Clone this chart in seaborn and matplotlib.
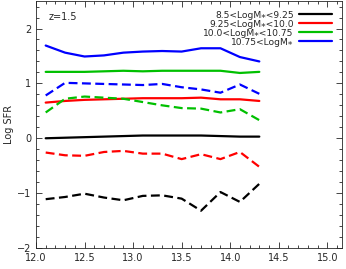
import numpy as np
import pandas as pd
import matplotlib
matplotlib.use('Agg')
import matplotlib.pyplot as plt
import seaborn as sns
from matplotlib.ticker import MultipleLocator

# x positions of the bins
x = [12.1, 12.3, 12.5, 12.7, 12.9, 13.1, 13.3, 13.5, 13.7, 13.9, 14.1, 14.3]

# solid lines
black_solid = [0.0, 0.01, 0.02, 0.03, 0.04, 0.05, 0.05, 0.05, 0.05, 0.04, 0.03, 0.03]
red_solid = [0.65, 0.68, 0.70, 0.71, 0.72, 0.73, 0.73, 0.73, 0.74, 0.71, 0.71, 0.68]
green_solid = [1.21, 1.21, 1.21, 1.22, 1.23, 1.22, 1.23, 1.23, 1.23, 1.23, 1.19, 1.21]
blue_solid = [1.69, 1.56, 1.49, 1.51, 1.56, 1.58, 1.59, 1.58, 1.64, 1.64, 1.48, 1.40]

# dashed lines
black_dash = [-1.11, -1.07, -1.01, -1.08, -1.13, -1.05, -1.04, -1.10, -1.32, -0.98, -1.16, -0.83]
red_dash = [-0.26, -0.31, -0.32, -0.25, -0.23, -0.28, -0.28, -0.38, -0.29, -0.38, -0.25, -0.52]
green_dash = [0.47, 0.72, 0.76, 0.74, 0.72, 0.66, 0.60, 0.55, 0.54, 0.47, 0.53, 0.33]
blue_dash = [0.78, 1.01, 1.00, 0.99, 0.98, 0.97, 0.99, 0.93, 0.89, 0.83, 0.98, 0.81]

labels = ['8.5<LogM\u204e<9.25', '9.25<LogM\u204e<10.0',
          '10.0<LogM\u204e<10.75', '10.75<LogM\u204e']
colors = ['#000000', '#ff0000', '#00c000', '#0000ff']

sns.set_style('ticks')
plt.rcParams['font.family'] = ['DejaVu Sans']
plt.rcParams['xtick.direction'] = 'in'
plt.rcParams['ytick.direction'] = 'in'

fig = plt.figure(figsize=(3.46, 2.69), dpi=100)
ax = fig.add_axes([0.104, 0.078, 0.884, 0.918])

solids = [black_solid, red_solid, green_solid, blue_solid]
dashes = [black_dash, red_dash, green_dash, blue_dash]
for s, d, c, lab in zip(solids, dashes, colors, labels):
    sns.lineplot(x=x, y=s, color=c, lw=1.6, label=lab, ax=ax)
    sns.lineplot(x=x, y=d, color=c, lw=1.6, ax=ax, linestyle=(0, (4, 2)))

ax.set_xlim(12.0, 15.15)
ax.set_ylim(-2.0, 2.5)
ax.xaxis.set_major_locator(MultipleLocator(0.5))
ax.xaxis.set_minor_locator(MultipleLocator(0.1))
ax.yaxis.set_major_locator(MultipleLocator(1))
ax.yaxis.set_minor_locator(MultipleLocator(0.2))
ax.xaxis.set_major_formatter(matplotlib.ticker.FormatStrFormatter('%.1f'))
ax.tick_params(which='both', top=True, right=True, labelsize=7, width=0.6)
ax.tick_params(which='major', length=4)
ax.tick_params(which='minor', length=2)
for sp in ax.spines.values():
    sp.set_linewidth(0.6)

ax.set_ylabel('Log SFR', fontsize=7, labelpad=2)
ax.text(0.04, 0.955, 'z=1.5', transform=ax.transAxes, fontsize=7, va='top')

ax.legend(loc='upper right', fontsize=6.6, frameon=False, markerfirst=False,
          handlelength=3.6, labelspacing=0.0, borderaxespad=0.55,
          handletextpad=0.6, borderpad=0.5)

fig.savefig('out.png', dpi=100)
